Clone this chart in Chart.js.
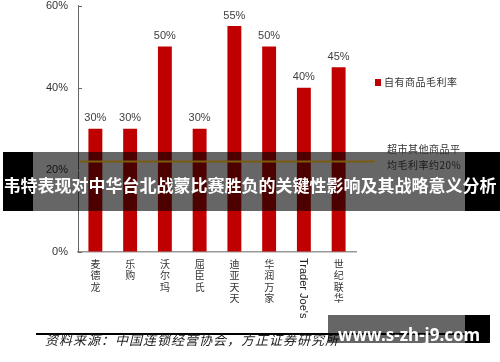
<!DOCTYPE html>
<html><head><meta charset="utf-8">
<script src="https://cdn.jsdelivr.net/npm/chart.js@4.4.0/dist/chart.umd.min.js"></script>
<style>
html,body{margin:0;padding:0;background:#fff;}
#wrap{position:relative;width:500px;height:362px;overflow:hidden;background:#fff;}
#c{position:absolute;left:0;top:0;}
.abs{position:absolute;white-space:nowrap;}
#legend{left:375px;top:74px;font:10px "Noto Sans CJK SC";color:#333;letter-spacing:0.5px;line-height:16px;}
#legend i{display:inline-block;width:6px;height:7px;background:#C00000;margin-right:3px;vertical-align:-0px;}
.note{left:387px;font:10px "Noto Sans CJK SC";letter-spacing:0.5px;line-height:14px;}
#title{left:0;width:500px;top:173px;text-align:center;font:bold 17px "Noto Sans CJK SC";line-height:24px;color:#fff;}
#srcline{left:36px;top:333px;width:430px;height:2px;background:#000;}
#src{left:45px;top:331px;font:italic 13px "Noto Sans CJK SC";letter-spacing:1px;line-height:18px;color:#222;}
#wm1{left:328px;top:315px;width:137px;height:28px;background:rgba(0,0,0,0.6);}
#wm2{left:465px;top:315px;width:25px;height:28px;background:#000;}
#wmt{left:338px;top:325px;font:bold 17px "Noto Sans";line-height:20px;color:#fff;}
#tj{font:11px "Liberation Sans";color:#222;writing-mode:vertical-rl;line-height:12px;}
</style></head><body>
<div id="wrap">
<canvas id="c" width="500" height="362"></canvas>
<div id="legend" class="abs"><i></i><span id="legendText"></span></div>
<div class="abs note" style="top:142px;color:#333;">超市其他商品平</div>
<div class="abs note" style="top:158px;color:#1a1a1a;">均毛利率约20%</div>
<div id="tj" class="abs"></div>
<div id="title" class="abs">韦特表现对中华台北战蒙比赛胜负的关键性影响及其战略意义分析</div>
<div id="srcline" class="abs"></div>
<div id="src" class="abs">资料来源：中国连锁经营协会，方正证券研究所</div>
<div id="wm1" class="abs"></div>
<div id="wm2" class="abs"></div>
<div id="wmt" class="abs">www.s-zh-j9.com</div>
</div>
<script>
const categories = ['麦德龙','乐购','沃尔玛','屈臣氏','迪亚天天','华润万家',"Trader Joe's",'世纪联华'];
const margins = [30, 30, 50, 30, 55, 50, 40, 45];
const seriesName = '自有商品毛利率';
const refLineStart = 0.06;
const refLineEnd = 8.55;
const refLevel = 22;
const yTicks = [0, 20, 40, 60];

document.getElementById('legendText').textContent = seriesName;

const isLatin = s => /^[\x00-\x7f]+$/.test(s);

const overlayPlugin = {
  id: 'overlay',
  afterDatasetDraw(chart, args) {
    if (args.index !== 0) return;
    const ctx = chart.ctx;
    ctx.save();
    ctx.fillStyle = 'rgba(0,0,0,0.6)';
    ctx.fillRect(33, 152, 432, 59);
    ctx.fillStyle = '#000';
    ctx.fillRect(3, 152, 30, 59);
    ctx.fillRect(465, 152, 35, 59);
    ctx.restore();
  },
  afterDatasetsDraw(chart) {
    const ctx = chart.ctx;
    const meta = chart.getDatasetMeta(0);
    ctx.save();
    ctx.font = '11px "Liberation Sans"';
    ctx.fillStyle = '#404040';
    ctx.textAlign = 'center';
    ctx.textBaseline = 'middle';
    meta.data.forEach((bar, i) => {
      ctx.fillText(margins[i] + '%', bar.x, bar.y - 10.5);
    });
    ctx.restore();
  },
  afterDraw(chart) {
    const ys = chart.scales.y;
    const ctx = chart.ctx;
    ctx.save();
    ctx.strokeStyle = '#666';
    ctx.lineWidth = 1;
    ys.ticks.forEach(t => {
      const py = Math.round(ys.getPixelForValue(t.value)) + 0.5;
      ctx.beginPath();
      ctx.moveTo(ys.right, py);
      ctx.lineTo(ys.right + 4, py);
      ctx.stroke();
    });
    ctx.restore();
  },
  afterRender(chart) {
    const xs = chart.scales.x;
    const idx = categories.findIndex(isLatin);
    if (idx < 0) return;
    const el = document.getElementById('tj');
    el.textContent = categories[idx];
    const px = xs.getPixelForValue(idx);
    el.style.left = (px - el.offsetWidth / 2) + 'px';
    el.style.top = (xs.top + 6) + 'px';
  }
};

new Chart(document.getElementById('c'), {
  data: {
    labels: categories,
    datasets: [
      {
        type: 'bar',
        label: seriesName,
        data: margins,
        backgroundColor: '#C00000',
        categoryPercentage: 1,
        barPercentage: 0.4,
        grouped: false,
        xAxisID: 'x',
        yAxisID: 'y',
        order: 2
      },
      {
        type: 'line',
        label: 'ref',
        data: [{x: refLineStart, y: refLevel}, {x: refLineEnd, y: refLevel}],
        xAxisID: 'x2',
        yAxisID: 'y',
        borderColor: '#7a5b12',
        borderWidth: 2,
        pointRadius: [0, 5],
        pointBackgroundColor: '#7a5b12',
        pointBorderColor: '#7a5b12',
        pointBorderWidth: 0,
        clip: false,
        order: 1
      }
    ]
  },
  options: {
    responsive: false,
    devicePixelRatio: 1,
    animation: false,
    layout: {padding: {top: 0, right: 144, bottom: 0, left: 0}},
    plugins: {legend: {display: false}, tooltip: {enabled: false}},
    scales: {
      x: {
        type: 'category',
        position: 'bottom',
        grid: {display: false, drawTicks: false},
        border: {display: true, color: '#999', width: 1.5},
        ticks: {
          padding: 6,
          color: '#333',
          font: {family: 'Noto Sans CJK SC', size: 10, lineHeight: 1.15},
          maxRotation: 0, minRotation: 0, autoSkip: false,
          callback: (v, i) => isLatin(categories[i]) ? '' : categories[i].split('')
        },
        afterFit: s => { s.height = 110; }
      },
      x2: {type: 'linear', position: 'bottom', min: 0, max: categories.length, display: false},
      y: {
        position: 'left',
        min: yTicks[0], max: yTicks[yTicks.length - 1],
        afterBuildTicks: s => { s.ticks = yTicks.map(v => ({value: v})); },
        grid: {display: true, drawOnChartArea: false, drawTicks: true, tickLength: 10, tickColor: 'rgba(0,0,0,0)'},
        border: {display: true, color: '#666', width: 1},
        ticks: {
          padding: 0,
          color: '#333',
          font: {family: 'Liberation Sans', size: 11, lineHeight: 1},
          callback: v => v + '%'
        },
        afterFit: s => { s.width = 78; }
      }
    }
  },
  plugins: [overlayPlugin]
});
</script>
</body></html>
